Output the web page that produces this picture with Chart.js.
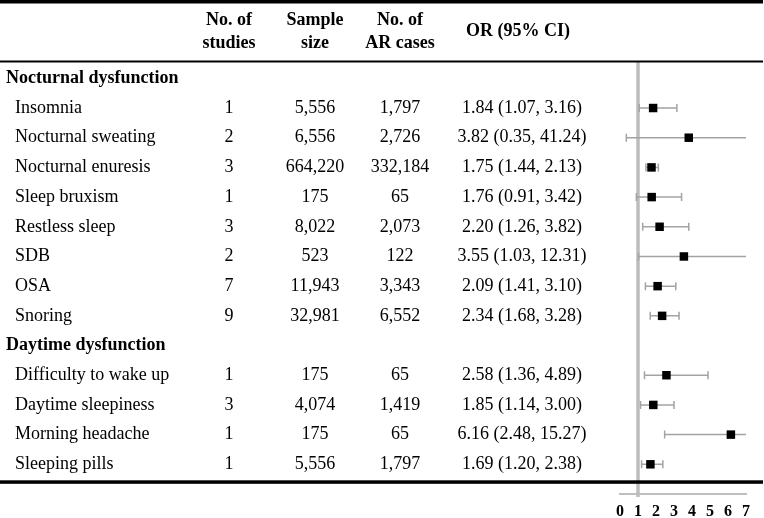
<!DOCTYPE html>
<html lang="en">
<head>
  <meta charset="UTF-8">
  <title>Sleep dysfunction and AR - forest plot</title>
  <style>
    body {
      margin: 0;
      background-color: #fff;
    }
    canvas {
      display: block;
    }
  </style>
  <script src="https://cdn.jsdelivr.net/npm/chart.js"></script>
</head>
<body>
  <canvas id="forest" width="764" height="518"></canvas>

  <script>
    // table data
    const groups = ['Nocturnal dysfunction', 'Daytime dysfunction'];
    const outcomes = ['Insomnia', 'Nocturnal sweating', 'Nocturnal enuresis', 'Sleep bruxism',
      'Restless sleep', 'SDB', 'OSA', 'Snoring',
      'Difficulty to wake up', 'Daytime sleepiness', 'Morning headache', 'Sleeping pills'];
    const outcomeGroup = [0, 0, 0, 0, 0, 0, 0, 0, 1, 1, 1, 1];
    const studies = [1, 2, 3, 1, 3, 2, 7, 9, 1, 3, 1, 1];
    const sampleSize = [5556, 6556, 664220, 175, 8022, 523, 11943, 32981, 175, 4074, 175, 5556];
    const arCases = [1797, 2726, 332184, 65, 2073, 122, 3343, 6552, 65, 1419, 65, 1797];
    const orValue = [1.84, 3.82, 1.75, 1.76, 2.20, 3.55, 2.09, 2.34, 2.58, 1.85, 6.16, 1.69];
    const ciLow = [1.07, 0.35, 1.44, 0.91, 1.26, 1.03, 1.41, 1.68, 1.36, 1.14, 2.48, 1.20];
    const ciHigh = [3.16, 41.24, 2.13, 3.42, 3.82, 12.31, 3.10, 3.28, 4.89, 3.00, 15.27, 2.38];
    const xTicks = [0, 1, 2, 3, 4, 5, 6, 7];
    const refValue = 1;

    const SERIF = '"Liberation Serif", "Times New Roman", serif';

    // row index of every header / outcome line (group header takes a row)
    const groupRow = [];
    const outcomeRow = [];
    let row = 0;
    outcomes.forEach((o, i) => {
      if (i === 0 || outcomeGroup[i] !== outcomeGroup[i - 1]) {
        groupRow.push(row);
        row++;
      }
      outcomeRow.push(row);
      row++;
    });

    const fmt = n => n.toLocaleString('en-US');
    const fmt2 = n => n.toFixed(2);

    const forestPlugin = {
      id: 'forest',
      beforeDatasetsDraw(chart) {
        const ctx = chart.ctx;
        const x = chart.scales.x;
        const y = chart.scales.y;
        const area = chart.chartArea;
        ctx.save();
        // reference line at OR = 1
        ctx.strokeStyle = '#bdbdbd';
        ctx.lineWidth = 3.5;
        ctx.beginPath();
        ctx.moveTo(x.getPixelForValue(refValue), area.top);
        ctx.lineTo(x.getPixelForValue(refValue), area.bottom + 3);
        ctx.stroke();

        // confidence intervals
        ctx.strokeStyle = '#a3a3a3';
        ctx.lineWidth = 1.5;
        outcomes.forEach((o, i) => {
          const py = y.getPixelForValue(outcomeRow[i]);
          const lo = Math.max(ciLow[i], x.min);
          const hi = Math.min(ciHigh[i], x.max);
          const x0 = x.getPixelForValue(lo);
          const x1 = x.getPixelForValue(hi);
          ctx.beginPath();
          ctx.moveTo(x0, py);
          ctx.lineTo(x1, py);
          if (ciLow[i] >= x.min) {
            ctx.moveTo(x0, py - 4);
            ctx.lineTo(x0, py + 4);
          }
          if (ciHigh[i] <= x.max) {
            ctx.moveTo(x1, py - 4);
            ctx.lineTo(x1, py + 4);
          }
          ctx.stroke();
        });
        ctx.restore();
      },
      afterDraw(chart) {
        const ctx = chart.ctx;
        const y = chart.scales.y;
        const W = chart.width;
        ctx.save();
        // table rules
        ctx.fillStyle = '#000';
        ctx.fillRect(0, 0, W - 1, 3.5);
        ctx.fillRect(0, 60.5, W - 1, 2);
        ctx.fillRect(0, 480.3, W - 1, 3.5);

        ctx.textBaseline = 'middle';
        // column headers
        ctx.font = 'bold 18px ' + SERIF;
        ctx.textAlign = 'center';
        ctx.fillText('No. of', 229, 20);
        ctx.fillText('studies', 229, 43);
        ctx.fillText('Sample', 315, 20);
        ctx.fillText('size', 315, 43);
        ctx.fillText('No. of', 400, 20);
        ctx.fillText('AR cases', 400, 43);
        ctx.fillText('OR (95% CI)', 518, 31);

        // group headings
        ctx.textAlign = 'left';
        groups.forEach((g, k) => {
          ctx.fillText(g, 6, y.getPixelForValue(groupRow[k]));
        });

        // outcome rows
        ctx.font = '18px ' + SERIF;
        outcomes.forEach((o, i) => {
          const py = y.getPixelForValue(outcomeRow[i]);
          ctx.textAlign = 'left';
          ctx.fillText(o, 15, py);
          ctx.textAlign = 'center';
          ctx.fillText(String(studies[i]), 229, py);
          ctx.fillText(fmt(sampleSize[i]), 315, py);
          ctx.fillText(fmt(arCases[i]), 400, py);
          ctx.fillText(fmt2(orValue[i]) + ' (' + fmt2(ciLow[i]) + ', ' + fmt2(ciHigh[i]) + ')', 522, py);
        });
        ctx.restore();
      }
    };

    const chart = new Chart(document.getElementById('forest'), {
      type: 'scatter',
      data: {
        datasets: [{
          data: outcomes.map((o, i) => ({ x: orValue[i], y: outcomeRow[i] })),
          pointStyle: 'rect',
          pointRadius: 6,
          backgroundColor: '#000',
          borderWidth: 0
        }]
      },
      options: {
        responsive: false,
        animation: false,
        layout: {
          padding: { left: 620, right: 18, top: 62, bottom: 0 }
        },
        plugins: {
          legend: { display: false },
          tooltip: { enabled: false }
        },
        scales: {
          x: {
            type: 'linear',
            min: xTicks[0],
            max: xTicks[xTicks.length - 1],
            afterBuildTicks: s => { s.ticks = xTicks.map(v => ({ value: v })); },
            afterFit: s => { s.height = 24; },
            grid: { display: false, drawTicks: false },
            border: { display: true, color: '#bfbfbf', width: 2 },
            ticks: {
              color: '#000',
              padding: 10,
              font: { family: SERIF, size: 16, weight: 'bold', lineHeight: 1 }
            }
          },
          y: {
            type: 'linear',
            display: false,
            reverse: true,
            min: -0.55,
            max: 14
          }
        }
      },
      plugins: [forestPlugin]
    });
  </script>
</body>
</html>
